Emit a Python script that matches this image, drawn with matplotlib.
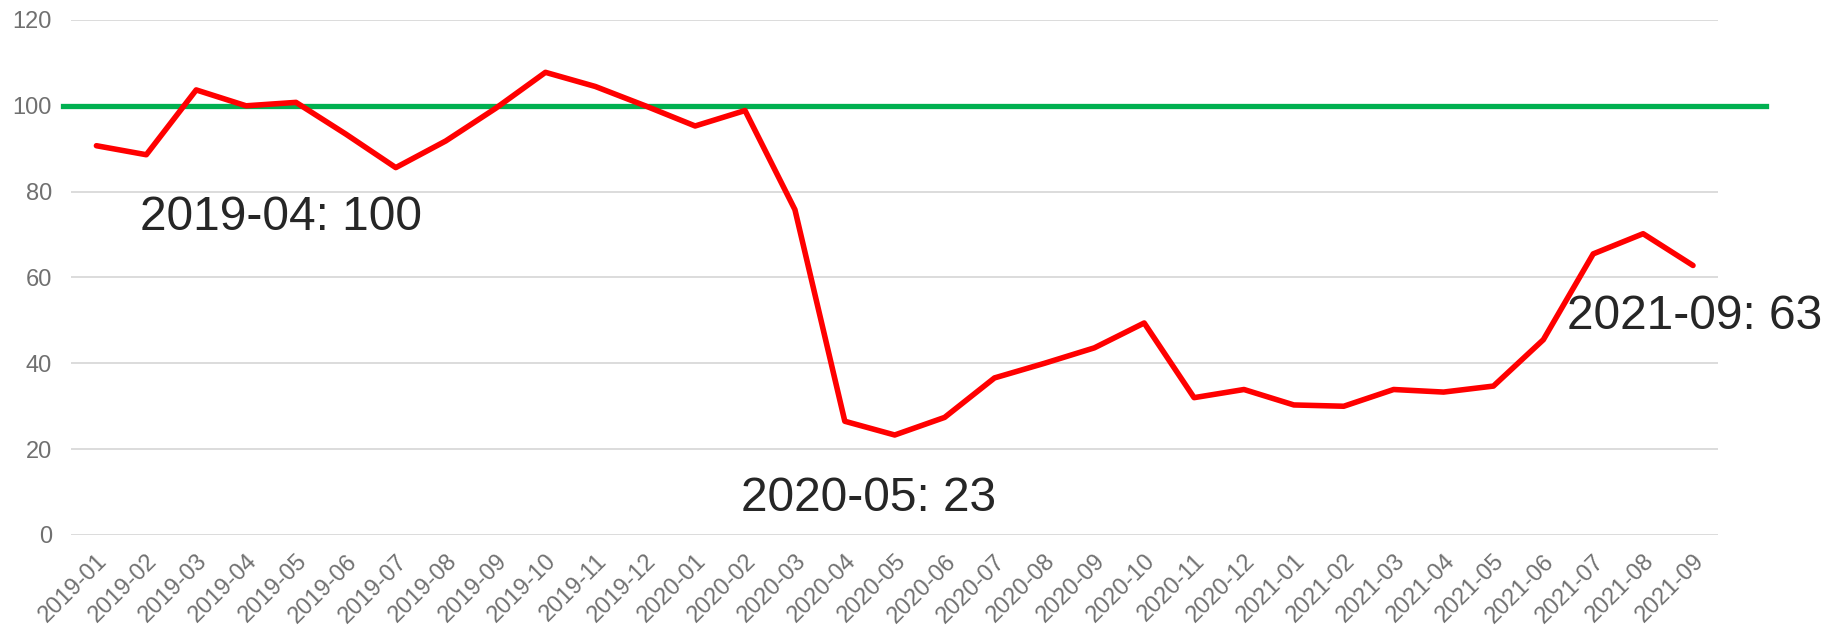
import matplotlib
matplotlib.use("Agg")
import matplotlib.pyplot as plt

months = ["2019-01", "2019-02", "2019-03", "2019-04", "2019-05", "2019-06",
          "2019-07", "2019-08", "2019-09", "2019-10", "2019-11", "2019-12",
          "2020-01", "2020-02", "2020-03", "2020-04", "2020-05", "2020-06",
          "2020-07", "2020-08", "2020-09", "2020-10", "2020-11", "2020-12",
          "2021-01", "2021-02", "2021-03", "2021-04", "2021-05", "2021-06",
          "2021-07", "2021-08", "2021-09"]
values = [90.7, 88.6, 103.7, 100.0, 100.8, 93.4,
          85.6, 91.8, 99.4, 107.8, 104.5, 100.0,
          95.3, 98.9, 75.8, 26.5, 23.3, 27.4,
          36.6, 40.0, 43.6, 49.4, 32.0, 33.9,
          30.3, 30.0, 33.9, 33.3, 34.7, 45.5,
          65.5, 70.2, 62.8]
target = 100
y_ticks = [0, 20, 40, 60, 80, 100, 120]

# annotation labels: (text, x position in category units, y value)
annotations = [("2019-04: 100", 3.70, 73.9),
               ("2020-05: 23", 15.48, 8.6),
               ("2021-09: 63", 32.03, 50.8)]

plt.rcParams['font.family'] = ['Liberation Sans', 'DejaVu Sans']

fig = plt.figure(figsize=(18.28, 6.30), dpi=100)
ax = fig.add_axes([0.0391, 0.1508, 0.9007, 0.8175])

x = list(range(len(months)))
ax.plot(x, values, color="#FF0000", lw=4.0, solid_joinstyle="round",
        solid_capstyle="round", zorder=4)
ax.axhline(target, xmin=-0.005, xmax=1.029, color="#00B050", lw=3.8,
           clip_on=False, zorder=3)

ax.set_xlim(-0.5, len(months) - 0.5)
ax.set_ylim(0, 120)
ax.set_yticks(y_ticks)
ax.set_xticks(x)
ax.set_xticklabels(months, rotation=45, ha="right", va="top",
                   rotation_mode="anchor")
ax.tick_params(axis="both", length=0, labelsize=17, colors="#707070")
ax.tick_params(axis="y", pad=14)
ax.tick_params(axis="x", pad=11)
ax.grid(axis="y", color="#D9D9D9", lw=1.3)
ax.set_axisbelow(True)
for s in ax.spines.values():
    s.set_visible(False)

for txt, xi, yi in annotations:
    ax.text(xi, yi, txt, fontsize=34.5, color="#262626", ha="center",
            va="center", clip_on=False, zorder=5)

fig.savefig("out.png", dpi=100, facecolor="white")
